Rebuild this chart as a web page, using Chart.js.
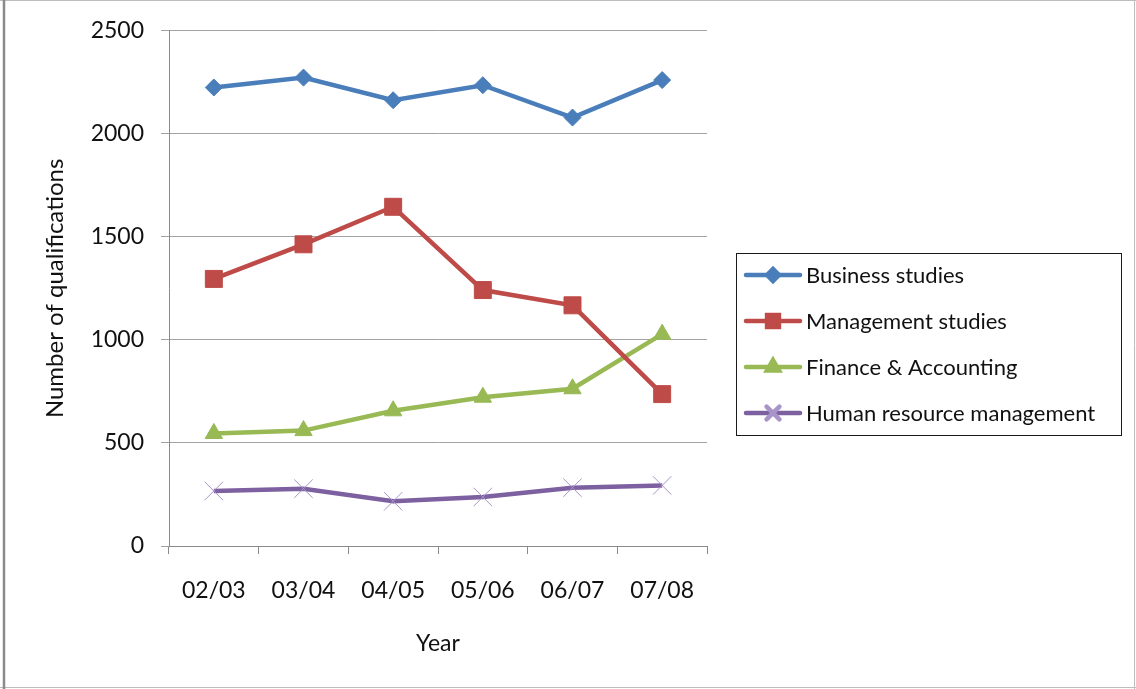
<!DOCTYPE html>
<html>
<head>
<meta charset="utf-8">
<title>Number of qualifications by year</title>
<script src="https://cdn.jsdelivr.net/npm/chart.js@4.4.1/dist/chart.umd.min.js"></script>
<style>
  html, body { margin: 0; padding: 0; background: #fff; }
  canvas { display: block; }
</style>
</head>
<body>
<canvas id="qualChart" width="1136" height="689"></canvas>
<script>
/* ------------------------------- */
/* DATA */
/* ------------------------------- */

const years = ["02/03", "03/04", "04/05", "05/06", "06/07", "07/08"];

const businessStudies = [2225, 2273, 2163, 2236, 2079, 2261];
const managementStudies = [1296, 1464, 1646, 1242, 1168, 737];
const financeAccounting = [546, 560, 656, 722, 763, 1028];
const humanResource = [267, 278, 217, 238, 283, 294];

const seriesNames = [
  "Business studies",
  "Management studies",
  "Finance & Accounting",
  "Human resource management",
];

const yTicks = [0, 500, 1000, 1500, 2000, 2500];

const FONT = "Lato, 'Open Sans', sans-serif";

/* ------------------------------- */
/* PLUGINS */
/* ------------------------------- */

// white page + the thin gray picture frame
const pageFrame = {
  id: "pageFrame",
  beforeDraw(chart) {
    const ctx = chart.ctx;
    ctx.save();
    ctx.fillStyle = "#fff";
    ctx.fillRect(0, 0, chart.width, chart.height);
    ctx.strokeStyle = "#bdbdbd";
    ctx.lineWidth = 1;
    ctx.beginPath();
    ctx.moveTo(0, 0.5);
    ctx.lineTo(chart.width, 0.5);
    ctx.moveTo(chart.width - 1.5, 0);
    ctx.lineTo(chart.width - 1.5, chart.height);
    ctx.moveTo(0, chart.height - 1.5);
    ctx.lineTo(chart.width, chart.height - 1.5);
    ctx.stroke();
    ctx.strokeStyle = "#8a8a8a";
    ctx.lineWidth = 2.5;
    ctx.beginPath();
    ctx.moveTo(4, 0);
    ctx.lineTo(4, chart.height);
    ctx.stroke();
    ctx.restore();
  },
};

// Excel-style boxed legend: line sample with marker in the middle
const boxedLegend = {
  id: "boxedLegend",
  afterDraw(chart) {
    const ctx = chart.ctx;
    const left = 736, top = 253, w = 385, h = 182;
    ctx.save();
    ctx.strokeStyle = "#1a1a1a";
    ctx.lineWidth = 1;
    ctx.strokeRect(left + 0.5, top + 0.5, w, h);

    chart.data.datasets.forEach((ds, i) => {
      const y = top + 22 + i * 46;
      ctx.strokeStyle = ds.borderColor;
      ctx.lineWidth = ds.borderWidth;
      ctx.lineCap = "round";
      ctx.beginPath();
      ctx.moveTo(left + 10, y);
      ctx.lineTo(left + 64, y);
      ctx.stroke();

      ctx.fillStyle = ds.pointBackgroundColor;
      ctx.strokeStyle = ds.pointBorderColor;
      Chart.helpers.drawPoint(ctx, {
        pointStyle: ds.pointStyle,
        radius: ds.pointRadius * 0.7,
        borderWidth: ds.pointBorderWidth,
        rotation: 0,
      }, left + 37, y);

      ctx.fillStyle = "#111";
      ctx.font = "22px " + FONT;
      ctx.textBaseline = "middle";
      ctx.textAlign = "left";
      ctx.fillText(ds.label, left + 70, y + 1);
    });
    ctx.restore();
  },
};

/* ------------------------------- */
/* CHART */
/* ------------------------------- */

function makeSeries(label, data, color, style, radius, markerColor) {
  return {
    label: label,
    data: data,
    borderColor: color,
    backgroundColor: color,
    borderWidth: 4.5,
    tension: 0,
    pointStyle: style,
    pointRadius: radius,
    pointHoverRadius: radius,
    pointBackgroundColor: markerColor || color,
    pointBorderColor: markerColor || color,
    pointBorderWidth: 1,
  };
}

new Chart(document.getElementById("qualChart").getContext("2d"), {
  type: "line",

  data: {
    labels: years,
    datasets: [
      makeSeries(seriesNames[0], businessStudies, "#4a7ebb", "rectRot", 8.5),
      makeSeries(seriesNames[1], managementStudies, "#be4b48", "rect", 12),
      makeSeries(seriesNames[2], financeAccounting, "#98b954", "triangle", 10),
      makeSeries(seriesNames[3], humanResource, "#7d60a0", "crossRot", 13, "#a894c8"),
    ],
  },

  plugins: [pageFrame, boxedLegend],

  options: {
    responsive: false,
    animation: false,
    devicePixelRatio: 1,

    layout: {
      padding: { left: 0, top: 27, right: 429, bottom: 0 },
    },

    plugins: {
      legend: { display: false },
      tooltip: { enabled: false },
    },

    scales: {
      x: {
        offset: true,
        afterFit: (s) => { s.height = 143; },
        grid: {
          display: true,
          offset: true,
          drawOnChartArea: false,
          drawTicks: true,
          tickLength: 8,
          color: "#8a8a8a",
        },
        border: { color: "#8a8a8a", width: 1 },
        ticks: {
          color: "#111",
          padding: 23,
          font: { family: FONT, size: 23 },
        },
        title: {
          display: true,
          text: "Year",
          color: "#111",
          font: { family: FONT, size: 23 },
          padding: { top: 0, bottom: 32 },
        },
      },

      y: {
        min: yTicks[0],
        max: yTicks[yTicks.length - 1],
        afterFit: (s) => { s.width = 169; },
        afterBuildTicks: (s) => { s.ticks = yTicks.map((v) => ({ value: v })); },
        grid: {
          color: "#a3a3a3",
          tickLength: 8,
        },
        border: { color: "#8a8a8a", width: 1 },
        ticks: {
          color: "#111",
          padding: 17,
          font: { family: FONT, size: 23 },
          callback: (v) => String(v),
        },
        title: {
          display: true,
          text: "Number of qualifications",
          color: "#111",
          font: { family: FONT, size: 24 },
          padding: { top: 41, bottom: 0 },
        },
      },
    },
  },
});
</script>
</body>
</html>
